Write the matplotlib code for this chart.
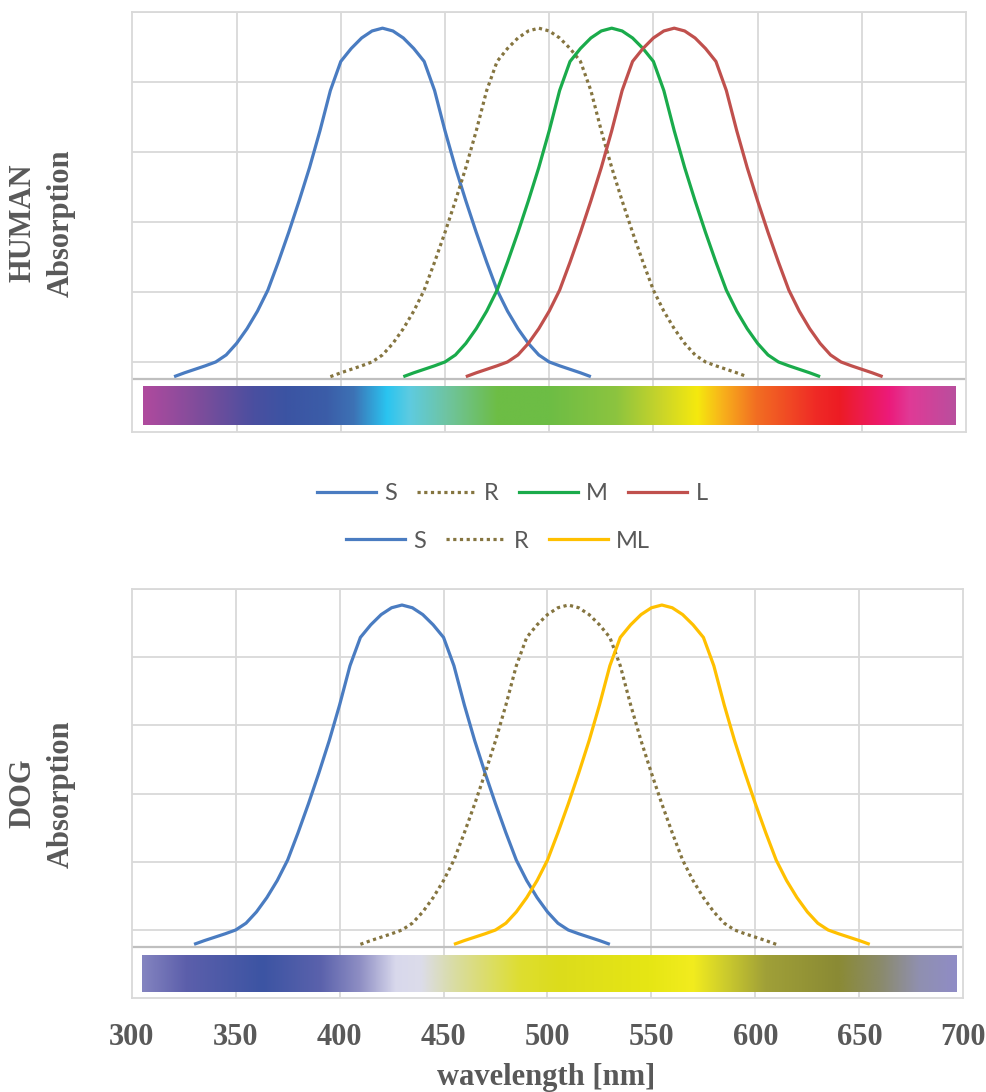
import numpy as np
import matplotlib
matplotlib.use("Agg")
import matplotlib.pyplot as plt
from matplotlib.colors import LinearSegmentedColormap
from matplotlib.lines import Line2D

W, H, DPI = 987, 1092, 100

# ---------------- data (wavelength nm, relative absorption) ----------------
human_S_nm = [320, 325, 330, 335, 340, 345, 350, 355, 360, 365, 370, 375, 380, 385, 390, 395, 400, 405, 410, 415, 420,
              425, 430, 435, 440, 445, 450, 455, 460, 465, 470, 475, 480, 485, 490, 495, 500, 505, 510, 515, 520]
human_S_abs = [-0.042, -0.031, -0.021, -0.011, 0.000, 0.020, 0.053, 0.095, 0.145, 0.205, 0.285, 0.370, 0.460, 0.555,
               0.660, 0.775, 0.858, 0.895, 0.925, 0.945, 0.953, 0.945, 0.925, 0.895, 0.858, 0.775, 0.660, 0.555, 0.460,
               0.370, 0.285, 0.205, 0.145, 0.095, 0.053, 0.020, 0.000, -0.011, -0.021, -0.031, -0.042]

human_R_nm = [395, 400, 405, 410, 415, 420, 425, 430, 435, 440, 445, 450, 455, 460, 465, 470, 475, 480, 485, 490, 495,
              500, 505, 510, 515, 520, 525, 530, 535, 540, 545, 550, 555, 560, 565, 570, 575, 580, 585, 590, 595]
human_R_abs = [-0.042, -0.031, -0.021, -0.011, 0.000, 0.020, 0.053, 0.095, 0.145, 0.205, 0.285, 0.370, 0.460, 0.555,
               0.660, 0.775, 0.858, 0.895, 0.925, 0.945, 0.953, 0.945, 0.925, 0.895, 0.858, 0.775, 0.660, 0.555, 0.460,
               0.370, 0.285, 0.205, 0.145, 0.095, 0.053, 0.020, 0.000, -0.011, -0.021, -0.031, -0.042]

human_M_nm = [430, 435, 440, 445, 450, 455, 460, 465, 470, 475, 480, 485, 490, 495, 500, 505, 510, 515, 520, 525, 530,
              535, 540, 545, 550, 555, 560, 565, 570, 575, 580, 585, 590, 595, 600, 605, 610, 615, 620, 625, 630]
human_M_abs = [-0.042, -0.031, -0.021, -0.011, 0.000, 0.020, 0.053, 0.095, 0.145, 0.205, 0.285, 0.370, 0.460, 0.555,
               0.660, 0.775, 0.858, 0.895, 0.925, 0.945, 0.953, 0.945, 0.925, 0.895, 0.858, 0.775, 0.660, 0.555, 0.460,
               0.370, 0.285, 0.205, 0.145, 0.095, 0.053, 0.020, 0.000, -0.011, -0.021, -0.031, -0.042]

human_L_nm = [460, 465, 470, 475, 480, 485, 490, 495, 500, 505, 510, 515, 520, 525, 530, 535, 540, 545, 550, 555, 560,
              565, 570, 575, 580, 585, 590, 595, 600, 605, 610, 615, 620, 625, 630, 635, 640, 645, 650, 655, 660]
human_L_abs = [-0.042, -0.031, -0.021, -0.011, 0.000, 0.020, 0.053, 0.095, 0.145, 0.205, 0.285, 0.370, 0.460, 0.555,
               0.660, 0.775, 0.858, 0.895, 0.925, 0.945, 0.953, 0.945, 0.925, 0.895, 0.858, 0.775, 0.660, 0.555, 0.460,
               0.370, 0.285, 0.205, 0.145, 0.095, 0.053, 0.020, 0.000, -0.011, -0.021, -0.031, -0.042]

dog_S_nm = [330, 335, 340, 345, 350, 355, 360, 365, 370, 375, 380, 385, 390, 395, 400, 405, 410, 415, 420, 425, 430,
            435, 440, 445, 450, 455, 460, 465, 470, 475, 480, 485, 490, 495, 500, 505, 510, 515, 520, 525, 530]
dog_S_abs = [-0.042, -0.031, -0.021, -0.011, 0.000, 0.020, 0.053, 0.095, 0.145, 0.205, 0.285, 0.370, 0.460, 0.555,
             0.660, 0.775, 0.858, 0.895, 0.925, 0.945, 0.953, 0.945, 0.925, 0.895, 0.858, 0.775, 0.660, 0.555, 0.460,
             0.370, 0.285, 0.205, 0.145, 0.095, 0.053, 0.020, 0.000, -0.011, -0.021, -0.031, -0.042]

dog_R_nm = [410, 415, 420, 425, 430, 435, 440, 445, 450, 455, 460, 465, 470, 475, 480, 485, 490, 495, 500, 505, 510,
            515, 520, 525, 530, 535, 540, 545, 550, 555, 560, 565, 570, 575, 580, 585, 590, 595, 600, 605, 610]
dog_R_abs = [-0.042, -0.031, -0.021, -0.011, 0.000, 0.020, 0.053, 0.095, 0.145, 0.205, 0.285, 0.370, 0.460, 0.555,
             0.660, 0.775, 0.858, 0.895, 0.925, 0.945, 0.953, 0.945, 0.925, 0.895, 0.858, 0.775, 0.660, 0.555, 0.460,
             0.370, 0.285, 0.205, 0.145, 0.095, 0.053, 0.020, 0.000, -0.011, -0.021, -0.031, -0.042]

dog_ML_nm = [455, 460, 465, 470, 475, 480, 485, 490, 495, 500, 505, 510, 515, 520, 525, 530, 535, 540, 545, 550, 555,
             560, 565, 570, 575, 580, 585, 590, 595, 600, 605, 610, 615, 620, 625, 630, 635, 640, 645, 650, 655]
dog_ML_abs = [-0.042, -0.031, -0.021, -0.011, 0.000, 0.020, 0.053, 0.095, 0.145, 0.205, 0.285, 0.370, 0.460, 0.555,
              0.660, 0.775, 0.858, 0.895, 0.925, 0.945, 0.953, 0.945, 0.925, 0.895, 0.858, 0.775, 0.660, 0.555, 0.460,
              0.370, 0.285, 0.205, 0.145, 0.095, 0.053, 0.020, 0.000, -0.011, -0.021, -0.031, -0.042]

x_ticks = [300, 350, 400, 450, 500, 550, 600, 650, 700]
x_tick_labels = ["300", "350", "400", "450", "500", "550", "600", "650", "700"]
y_grid = [0.0, 0.2, 0.4, 0.6, 0.8, 1.0]

# spectrum bars: (wavelength, colour)
human_bar_nm = [305, 334, 358, 374, 393, 406, 422, 433, 451, 475, 500, 532, 553, 571, 583, 599, 628, 639, 663, 673, 695]
human_bar_col = ["#b04a9e", "#7a4d9b", "#4a4fa0", "#3b54a3", "#3b5da8", "#3d72b5", "#2ac4f0", "#5ecbe0", "#6fc4a0",
                 "#6dbd45", "#6dbd45", "#8cc43f", "#c8d42a", "#f5e90e", "#f8b21b", "#f26f22", "#ef2a26", "#ed1c24",
                 "#ec1a7a", "#e03a96", "#b94f9e"]
dog_bar_nm = [305, 326, 363, 391, 410, 427, 439, 455, 487, 505, 549, 570, 586, 605, 640, 660, 679, 697]
dog_bar_col = ["#8484c0", "#5c5fab", "#3c54a3", "#5b62ac", "#8f8fc4", "#d8d8ec", "#dcdcea", "#d9dca4", "#dede30",
               "#dcdc1c", "#e6e614", "#f2ec1e", "#cccb2d", "#a0a038", "#8a8a34", "#8a8a6a", "#9090b0", "#8f8cc6"]

# ---------------- styles ----------------
C_S, C_R, C_M, C_L, C_ML = "#4a7cc1", "#857540", "#1aab4b", "#c0504d", "#ffc000"
GRID = "#d9d9d9"
TXT = "#595959"
LW = 2.3
DOT = (0, (1, 1.1))

fig = plt.figure(figsize=(W / DPI, H / DPI), dpi=DPI)
fig.patch.set_facecolor("white")


def add_px_axes(l, t, r, b):
    return fig.add_axes([l / W, 1 - b / H, (r - l) / W, (b - t) / H])


def panel(rect, series, bar_nm, bar_col, bar_y, axis_y):
    ax = add_px_axes(*rect)
    pos = [(v - bar_nm[0]) / (bar_nm[-1] - bar_nm[0]) for v in bar_nm]
    cmap = LinearSegmentedColormap.from_list("spec", list(zip(pos, bar_col)), N=1024)
    ax.imshow(np.linspace(0, 1, 1024)[None, :], aspect="auto", cmap=cmap,
              extent=(bar_nm[0], bar_nm[-1], bar_y[0], bar_y[1]), zorder=2, interpolation="bilinear")
    for v in x_ticks[1:-1]:
        ax.axvline(v, color=GRID, lw=1.3, zorder=0)
    for v in y_grid:
        ax.axhline(v, color=GRID, lw=1.3, zorder=0)
    ax.axhline(axis_y, color="#bfbfbf", lw=1.6, zorder=1)
    for xs, ys, c, ls in series:
        ax.plot(xs, ys, color=c, lw=LW, ls=ls, zorder=3, solid_capstyle="butt")
    ax.set_xlim(300, 700)
    ax.set_ylim(-0.2, 1.0)
    ax.set_yticks([])
    for s in ax.spines.values():
        s.set_color(GRID)
        s.set_linewidth(1.3)
    ax.tick_params(axis="x", length=0)
    return ax


ax1 = panel((132.4, 11.7, 966, 432),
            [(human_S_nm, human_S_abs, C_S, "-"), (human_R_nm, human_R_abs, C_R, DOT),
             (human_M_nm, human_M_abs, C_M, "-"), (human_L_nm, human_L_abs, C_L, "-")],
            human_bar_nm, human_bar_col, (-0.18, -0.0705), -0.048)
ax1.set_xticks(x_ticks)
ax1.set_xticklabels([])

ax2 = panel((131.7, 589, 963.3, 998.2),
            [(dog_S_nm, dog_S_abs, C_S, "-"), (dog_R_nm, dog_R_abs, C_R, DOT),
             (dog_ML_nm, dog_ML_abs, C_ML, "-")],
            dog_bar_nm, dog_bar_col, (-0.183, -0.075), -0.049)
ax2.set_xticks(x_ticks)
ax2.set_xticklabels(x_tick_labels, fontsize=22, fontfamily="Liberation Serif", fontweight="bold", color=TXT)
ax2.tick_params(axis="x", pad=18)

serif = dict(fontsize=22, fontfamily="Liberation Serif", fontweight="bold", color=TXT)
fig.text(546 / W, 1 - 1085 / H, "wavelength [nm]", ha="center", va="baseline", **serif)
fig.text(23 / W, 1 - 223 / H, "HUMAN", rotation=90, ha="center", va="center", **serif)
fig.text(61 / W, 1 - 223 / H, "Absorption", rotation=90, ha="center", va="center", **serif)
fig.text(23 / W, 1 - 793 / H, "DOG", rotation=90, ha="center", va="center", **serif)
fig.text(61 / W, 1 - 794 / H, "Absorption", rotation=90, ha="center", va="center", **serif)

leg_font = dict(family="Lato", size=17)


def legend_row(entries, cx, cy):
    handles = [Line2D([], [], color=c, lw=LW, ls=ls) for _, c, ls in entries]
    labels = [n for n, _, _ in entries]
    leg = fig.legend(handles, labels, loc="center", bbox_to_anchor=(cx / W, 1 - cy / H), ncol=len(entries),
                     frameon=False, prop=leg_font, handlelength=2.5, handletextpad=0.35, columnspacing=0.85,
                     borderpad=0, borderaxespad=0)
    for t in leg.get_texts():
        t.set_color(TXT)
    return leg


legend_row([("S", C_S, "-"), ("R", C_R, DOT), ("M", C_M, "-"), ("L", C_L, "-")], 512, 494)
legend_row([("S", C_S, "-"), ("R", C_R, DOT), ("ML", C_ML, "-")], 498, 541)

fig.savefig("out.png", dpi=DPI, facecolor="white")
